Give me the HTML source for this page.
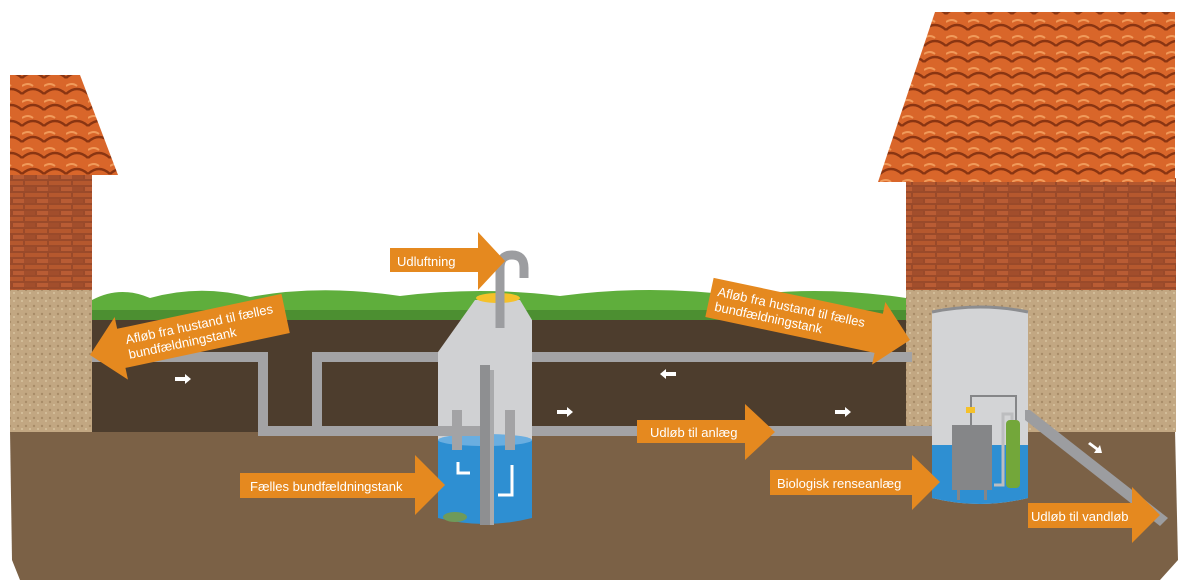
<!DOCTYPE html>
<html><head><meta charset="utf-8"><style>
html,body{margin:0;padding:0;background:#fff}
svg{display:block}
text{font-family:"Liberation Sans",sans-serif;fill:#fff}
</style></head><body>
<svg width="1200" height="588" viewBox="0 0 1200 588" xmlns="http://www.w3.org/2000/svg">
<defs>
<pattern id="tile" width="22" height="16" patternUnits="userSpaceOnUse">
<rect width="22" height="16" fill="#d9662a"/>
<path d="M0 14 Q11 4 22 14" stroke="#8a3512" stroke-width="2.5" fill="none"/>
<path d="M0 6 Q6 2 11 6" stroke="#f09a5a" stroke-width="2" fill="none"/>
</pattern>
<pattern id="brick" width="24" height="12" patternUnits="userSpaceOnUse">
<rect width="24" height="12" fill="#9a4a2a"/>
<rect x="1" y="1" width="22" height="4" fill="#b5582e"/>
<rect x="-11" y="7" width="22" height="4" fill="#a24e2c"/>
<rect x="13" y="7" width="22" height="4" fill="#b95c34"/>
</pattern>
<pattern id="sand" width="8" height="8" patternUnits="userSpaceOnUse">
<rect width="8" height="8" fill="#c2a782"/>
<circle cx="2" cy="2" r="1.2" fill="#a88c68"/>
<circle cx="6" cy="5" r="1" fill="#d8c3a0"/>
</pattern>
</defs>
<!-- lower soil -->
<path d="M10 430 L1175 430 L1178 560 L1160 580 L20 580 L12 560 Z" fill="#7b6146"/>
<!-- dark upper soil -->
<rect x="92" y="312" width="814" height="120" fill="#4d3d2d"/>
<!-- grass -->
<path d="M92 300 Q120 285 150 298 Q200 284 250 297 Q320 284 400 296 Q480 286 560 296 Q650 284 740 296 Q820 285 906 298 L906 320 L92 320 Z" fill="#5fae3c"/>
<rect x="92" y="310" width="814" height="10" fill="#3f7a2a" opacity="0.6"/>
<!-- left house -->
<rect x="10" y="288" width="82" height="144" fill="url(#sand)"/>
<rect x="10" y="172" width="82" height="118" fill="url(#brick)"/>
<path d="M10 75 L80 75 L118 175 L10 175 Z" fill="url(#tile)"/>
<!-- right house -->
<rect x="906" y="288" width="270" height="144" fill="url(#sand)"/>
<rect x="906" y="178" width="270" height="112" fill="url(#brick)"/>
<path d="M935 12 L1175 12 L1175 182 L878 182 Z" fill="url(#tile)"/>
<!-- pipes -->
<g fill="#a3a3a5">
<rect x="92" y="352" width="172" height="10"/>
<rect x="258" y="352" width="10" height="84"/>
<rect x="258" y="426" width="690" height="10"/>
<rect x="312" y="352" width="10" height="80"/>
<rect x="312" y="352" width="600" height="10"/>
</g>
<!-- central tank -->
<path d="M438 440 L438 352 L475 300 L520 300 L532 320 L532 440 Z" fill="#d0d1d3"/>
<ellipse cx="498" cy="298" rx="22" ry="5" fill="#f5c12a"/>
<path d="M438 440 L532 440 L532 518 Q485 530 438 518 Z" fill="#2e8fd2"/>
<ellipse cx="485" cy="440" rx="47" ry="6" fill="#6aaee0"/>
<ellipse cx="455" cy="517" rx="12" ry="5" fill="#6f9a5a"/>
<rect x="436" y="426" width="50" height="10" fill="#a3a3a5"/>
<rect x="452" y="410" width="10" height="40" fill="#a3a3a5"/>
<rect x="505" y="410" width="10" height="40" fill="#a3a3a5"/>
<rect x="480" y="365" width="10" height="160" fill="#8e8f91"/>
<rect x="490" y="370" width="4" height="155" fill="#a9aaac"/>
<path d="M500 328 L500 268 Q500 255 512 255 Q524 255 524 268 L524 278" stroke="#9c9da0" stroke-width="9" fill="none"/>
<path d="M458 462 L458 473 L470 473" stroke="#fff" stroke-width="3" fill="none"/>
<path d="M498 495 L512 495 L512 465" stroke="#fff" stroke-width="3" fill="none"/>
<!-- right tank -->
<path d="M932 312 Q980 302 1028 312 L1028 498 Q980 510 932 498 Z" fill="#d3d4d6"/>
<path d="M932 312 Q980 302 1028 312" stroke="#8c8d90" stroke-width="3" fill="none"/>
<path d="M932 445 L1028 445 L1028 498 Q980 510 932 498 Z" fill="#2e8fd2"/>
<rect x="952" y="425" width="40" height="65" fill="#858688"/>
<rect x="957" y="488" width="3" height="12" fill="#858688"/><rect x="984" y="488" width="3" height="12" fill="#858688"/>
<path d="M971 425 L971 396 L1016 396 L1016 420" stroke="#858688" stroke-width="2" fill="none"/>
<rect x="966" y="407" width="9" height="6" fill="#f5c12a"/>
<path d="M994 485 L1003 485 L1003 414 L1012 414 L1012 425" stroke="#bcbdbf" stroke-width="3" fill="none"/>
<rect x="1006" y="420" width="14" height="68" rx="4" fill="#73a73a"/>
<path d="M1025 410 L1030 410 L1168 518 L1160 526 L1025 420 Z" fill="#9c9da0"/>
<!-- small white arrows -->
<g fill="#fff">
<path d="M175 377 h10 v-3 l6 5 l-6 5 v-3 h-10 z"/>
<path d="M676 372 h-10 v-3 l-6 5 l6 5 v-3 h10 z"/>
<path d="M557 410 h10 v-3 l6 5 l-6 5 v-3 h-10 z"/>
<path d="M835 410 h10 v-3 l6 5 l-6 5 v-3 h-10 z"/>
<path d="M1090 442 l8 6 l2 -3 l2 8 l-8 0 l2 -3 l-8 -6 z"/>
</g>
<!-- orange arrows -->
<g fill="#e5891f">
<path d="M390 248 H478 V232 L505 261 L478 290 V272 H390 Z"/>
<path d="M240 473 H415 V455 L445 485 L415 515 V498 H240 Z"/>
<path d="M637 420 H745 V404 L775 432 L745 460 V443 H637 Z"/>
<path d="M770 470 H912 V455 L940 482 L912 510 V495 H770 Z"/>
<path d="M1028 503 H1132 V487 L1160 515 L1132 543 V528 H1028 Z"/>
<g transform="rotate(-12 90 355)"><path d="M90 355 L122 323 V335 H290 V375 H122 V387 Z"/></g>
<g transform="rotate(12 910 340)"><path d="M910 340 L878 308 V320 H705 V360 H878 V372 Z"/></g>
</g>
<text x="397" y="266" font-size="13">Udluftning</text>
<text x="250" y="491" font-size="13">Fælles bundfældningstank</text>
<text x="650" y="437" font-size="13">Udløb til anlæg</text>
<text x="777" y="488" font-size="13">Biologisk renseanlæg</text>
<text x="1031" y="521" font-size="13">Udløb til vandløb</text>
<g transform="rotate(-12 90 355)"><text x="128" y="352" font-size="13">Afløb fra hustand til fælles</text><text x="128" y="367" font-size="13">bundfældningstank</text></g>
<g transform="rotate(12 910 340)"><text x="712" y="337" font-size="13">Afløb fra hustand til fælles</text><text x="712" y="352" font-size="13">bundfældningstank</text></g>
</svg>
</body></html>
